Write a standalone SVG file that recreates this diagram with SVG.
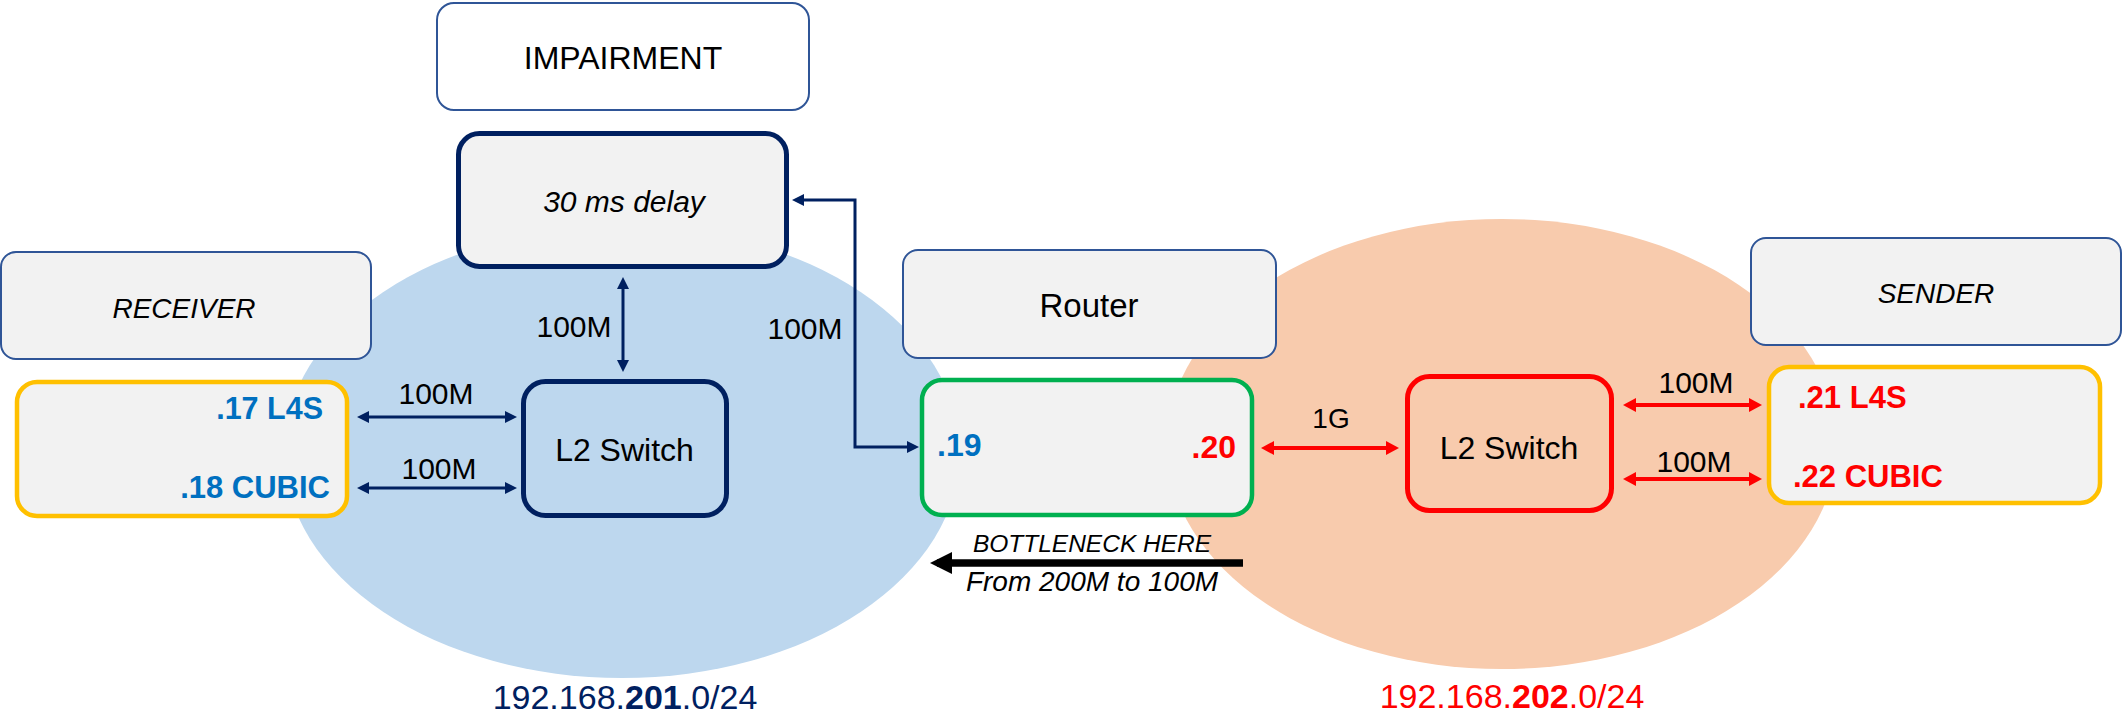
<svg xmlns="http://www.w3.org/2000/svg" width="2123" height="719" viewBox="0 0 2123 719">
<defs>
<style>
text{font-family:"Liberation Sans",Arial,sans-serif;fill:#000}
.lbl{fill:#f2f2f2;stroke:#2f5597;stroke-width:2}
.it{font-style:italic}
.b{font-weight:bold}
.mid{text-anchor:middle}
.end{text-anchor:end}
.navy{fill:none;stroke:#002060;stroke-width:3}
.red{fill:none;stroke:#ff0000;stroke-width:4}
.bw{fill:#0070c0}
.rw{fill:#ff0000}
</style>
<marker id="an" viewBox="0 0 12 12" refX="8" refY="6" markerWidth="12" markerHeight="12" markerUnits="userSpaceOnUse" orient="auto-start-reverse"><path d="M0,0 L12,6 L0,12 z" fill="#002060"/></marker>
<marker id="ar" viewBox="0 0 13 14" refX="9" refY="7" markerWidth="13" markerHeight="14" markerUnits="userSpaceOnUse" orient="auto-start-reverse"><path d="M0,0 L13,7 L0,14 z" fill="#ff0000"/></marker>
<marker id="ab" viewBox="0 0 22 22" refX="15" refY="11" markerWidth="22" markerHeight="22" markerUnits="userSpaceOnUse" orient="auto"><path d="M0,0 L22,11 L0,22 z" fill="#000"/></marker>
</defs>

<g id="subnets">
<ellipse cx="622" cy="452" rx="338" ry="226" fill="#bdd7ee"/>
<ellipse cx="1502" cy="444" rx="335" ry="225" fill="#f8cbad"/>
</g>

<g id="impairment-label">
<rect x="437" y="3" width="372" height="107" rx="17" fill="#fff" stroke="#2f5597" stroke-width="2"/>
<text x="623" y="69" class="mid" font-size="32">IMPAIRMENT</text>
</g>

<g id="delay">
<rect x="458.5" y="133.5" width="328" height="133" rx="21" fill="#f2f2f2" stroke="#002060" stroke-width="5"/>
<text x="624" y="212" class="mid it" font-size="30">30 ms delay</text>
</g>

<g id="receiver-label">
<rect x="1" y="252" width="370" height="107" rx="15" class="lbl"/>
<text x="184" y="318" class="mid it" font-size="28">RECEIVER</text>
</g>

<g id="receiver-hosts">
<rect x="17" y="382" width="330" height="134" rx="20" fill="#f2f2f2" stroke="#ffc000" stroke-width="4.5"/>
<text x="323" y="419" class="end b bw" font-size="30.5">.17 L4S</text>
<text x="330" y="498" class="end b bw" font-size="31">.18 CUBIC</text>
</g>

<g id="switch-left">
<rect x="523.5" y="381.5" width="203" height="134" rx="22" fill="none" stroke="#002060" stroke-width="5"/>
<text x="624.5" y="461" class="mid" font-size="32">L2 Switch</text>
</g>

<g id="router-label">
<rect x="903" y="250" width="373" height="108" rx="15" class="lbl"/>
<text x="1089" y="317" class="mid" font-size="33">Router</text>
</g>

<g id="router">
<rect x="922" y="380" width="330" height="135" rx="20" fill="#f2f2f2" stroke="#00b050" stroke-width="4.5"/>
<text x="937" y="456" class="b bw" font-size="32">.19</text>
<text x="1236" y="458" class="end b rw" font-size="32">.20</text>
</g>

<g id="switch-right">
<rect x="1407.5" y="376.5" width="204" height="134" rx="22" fill="none" stroke="#ff0000" stroke-width="5"/>
<text x="1509" y="459" class="mid" font-size="32">L2 Switch</text>
</g>

<g id="sender-label">
<rect x="1751" y="238" width="370" height="107" rx="15" class="lbl"/>
<text x="1936" y="303" class="mid it" font-size="28">SENDER</text>
</g>

<g id="sender-hosts">
<rect x="1769" y="367" width="331" height="136" rx="20" fill="#f2f2f2" stroke="#ffc000" stroke-width="4.5"/>
<text x="1798" y="408" class="b rw" font-size="31">.21 L4S</text>
<text x="1793" y="487" class="b rw" font-size="31">.22 CUBIC</text>
</g>

<g id="connectors">
<path d="M361,417 H513" class="navy" marker-start="url(#an)" marker-end="url(#an)"/>
<path d="M361,488 H513" class="navy" marker-start="url(#an)" marker-end="url(#an)"/>
<path d="M623,281 V368" class="navy" marker-start="url(#an)" marker-end="url(#an)"/>
<path d="M796,200 H855 V447 H915" class="navy" marker-start="url(#an)" marker-end="url(#an)"/>
<path d="M1265,448 H1395" class="red" marker-start="url(#ar)" marker-end="url(#ar)"/>
<path d="M1627,405 H1758" class="red" marker-start="url(#ar)" marker-end="url(#ar)"/>
<path d="M1627,479 H1758" class="red" marker-start="url(#ar)" marker-end="url(#ar)"/>
<path d="M1243,563 H937" fill="none" stroke="#000" stroke-width="7.5" marker-end="url(#ab)"/>
</g>

<g id="labels">
<text x="436" y="404" class="mid" font-size="30">100M</text>
<text x="439" y="479" class="mid" font-size="30">100M</text>
<text x="574" y="337" class="mid" font-size="30">100M</text>
<text x="805" y="339" class="mid" font-size="30">100M</text>
<text x="1331" y="428" class="mid" font-size="28">1G</text>
<text x="1696" y="393" class="mid" font-size="30">100M</text>
<text x="1694" y="472" class="mid" font-size="30">100M</text>
<text x="1092" y="552" class="mid it" font-size="24.5">BOTTLENECK HERE</text>
<text x="1092" y="591" class="mid it" font-size="28">From 200M to 100M</text>
<text x="625" y="709" class="mid" font-size="34" style="fill:#002060">192.168.<tspan class="b">201</tspan>.0/24</text>
<text x="1512" y="708" class="mid" font-size="34" style="fill:#ff0000">192.168.<tspan class="b">202</tspan>.0/24</text>
</g>
</svg>
